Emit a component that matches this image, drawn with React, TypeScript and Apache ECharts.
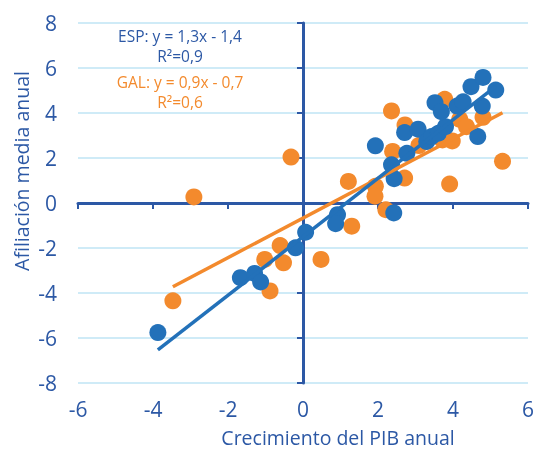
import React, { useEffect, useRef } from "react";
import * as echarts from "echarts";

// ESP (Spain) points: GDP growth (x) vs. employment affiliation growth (y)
const espX = [-3.87, -1.67, -1.29, -1.13, -0.2, 0.07, 0.92, 0.87, 2.42, 1.93, 2.36, 2.43, 2.77, 2.71, 3.07, 3.3, 3.43, 3.61, 3.8, 3.52, 3.69, 4.11, 4.27, 4.48, 4.8, 5.14, 4.78, 4.66];
const espY = [-5.76, -3.32, -3.13, -3.51, -1.99, -1.3, -0.52, -0.92, -0.44, 2.54, 1.7, 1.08, 2.21, 3.13, 3.28, 2.73, 2.95, 3.1, 3.39, 4.46, 4.06, 4.31, 4.5, 5.17, 5.58, 5.02, 4.31, 2.95];

// GAL (Galicia) points
const galX = [-3.47, -2.91, -0.32, -1.02, -0.61, -0.52, -0.88, 0.48, 1.21, 1.3, 1.93, 1.92, 2.21, 2.36, 2.39, 2.71, 2.72, 3.09, 3.78, 3.72, 3.98, 3.91, 4.18, 4.36, 4.8, 5.32];
const galY = [-4.35, 0.27, 2.04, -2.51, -1.89, -2.66, -3.91, -2.51, 0.96, -1.03, 0.74, 0.3, -0.3, 4.09, 2.29, 1.11, 3.47, 2.55, 4.61, 2.8, 2.76, 0.84, 3.72, 3.39, 3.81, 1.85];

// Trend line coefficients as drawn [slope, intercept]
const espTrend = [1.3, -1.5];
const galTrend = [0.88, -0.67];

const xTitle = "Crecimiento del PIB anual";
const yTitle = "Afiliación media anual";
const espLabel = "ESP: y = 1,3x - 1,4\nR²=0,9";
const galLabel = "GAL: y = 0,9x - 0,7\nR²=0,6";

const BLUE = "#2371B9";
const ORANGE = "#F38A2D";
const AXIS = "#2C58A5";
const TEXT = "#2C58A5";
const GRID = "#BFE4F5";
const FONT = '"Open Sans", "Noto Sans", sans-serif';

function pairs(xs: number[], ys: number[]) {
  return xs.map((x, i) => [x, ys[i]]);
}

function trend(xs: number[], coef: number[]) {
  const lo = Math.min(...xs);
  const hi = Math.max(...xs);
  return [
    [lo, coef[0] * lo + coef[1]],
    [hi, coef[0] * hi + coef[1]],
  ];
}

export default function App() {
  const ref = useRef<HTMLDivElement>(null);
  useEffect(() => {
    if (!ref.current) return;
    const chart = echarts.init(ref.current, null, { renderer: "svg" });
    const common = { type: "value", min: -6, max: 6, interval: 2 };
    const commonY = { type: "value", min: -8, max: 8, interval: 2 };
    chart.setOption({
      animation: false,
      grid: { left: 78, right: 5, top: 23, bottom: 67, containLabel: false, outerBoundsMode: "none" },
      xAxis: [
        {
          ...common,
          position: "bottom",
          axisLine: { show: false, onZero: false },
          axisTick: { show: false },
          splitLine: { show: false },
          axisLabel: { color: TEXT, fontSize: 21, fontFamily: FONT, margin: 15 },
        },
        {
          ...common,
          position: "bottom",
          axisLine: { show: true, onZero: true, lineStyle: { color: AXIS, width: 3 } },
          axisTick: { show: true, length: 6, lineStyle: { color: AXIS, width: 2 } },
          axisLabel: { show: false },
          splitLine: { show: false },
        },
      ],
      yAxis: [
        {
          ...commonY,
          position: "left",
          axisLine: { show: false, onZero: false },
          axisTick: { show: false },
          splitLine: { show: true, lineStyle: { color: GRID, width: 1.5 } },
          axisLabel: { color: TEXT, fontSize: 21, fontFamily: FONT, margin: 21 },
        },
        {
          ...commonY,
          position: "left",
          axisLine: { show: true, onZero: true, lineStyle: { color: AXIS, width: 3 } },
          axisTick: { show: true, length: 6, lineStyle: { color: AXIS, width: 2 } },
          axisLabel: { show: false },
          splitLine: { show: false },
        },
      ],
      series: [
        {
          name: "GAL",
          type: "scatter",
          data: pairs(galX, galY),
          symbol: "circle",
          symbolSize: 17,
          itemStyle: { color: ORANGE, opacity: 1 },
        },
        {
          name: "ESP",
          type: "scatter",
          data: pairs(espX, espY),
          symbol: "circle",
          symbolSize: 17,
          itemStyle: { color: BLUE, opacity: 1 },
        },
        {
          name: "GAL tendencia",
          type: "line",
          data: trend(galX, galTrend),
          symbol: "none",
          lineStyle: { color: ORANGE, width: 3.5 },
        },
        {
          name: "ESP tendencia",
          type: "line",
          data: trend(espX, espTrend),
          symbol: "none",
          lineStyle: { color: BLUE, width: 3.5 },
        },
      ],
      graphic: [
        { type: "text", x: 180, y: 46, style: { text: espLabel, fill: TEXT, fontSize: 15.5, lineHeight: 19.5, fontFamily: FONT, align: "center", verticalAlign: "middle" } },
        { type: "text", x: 180, y: 92, style: { text: galLabel, fill: ORANGE, fontSize: 15.5, lineHeight: 19.5, fontFamily: FONT, align: "center", verticalAlign: "middle" } },
        { type: "text", x: 338, y: 437, style: { text: xTitle, fill: TEXT, fontSize: 19.5, fontFamily: FONT, align: "center", verticalAlign: "middle" } },
        { type: "text", x: 21, y: 171, rotation: Math.PI / 2, style: { text: yTitle, fill: TEXT, fontSize: 19.5, fontFamily: FONT, align: "center", verticalAlign: "middle" } },
      ],
    });
    return () => chart.dispose();
  }, []);
  return <div ref={ref} style={{ position: "fixed", left: 0, top: 0, width: 533, height: 450 }} />;
}
